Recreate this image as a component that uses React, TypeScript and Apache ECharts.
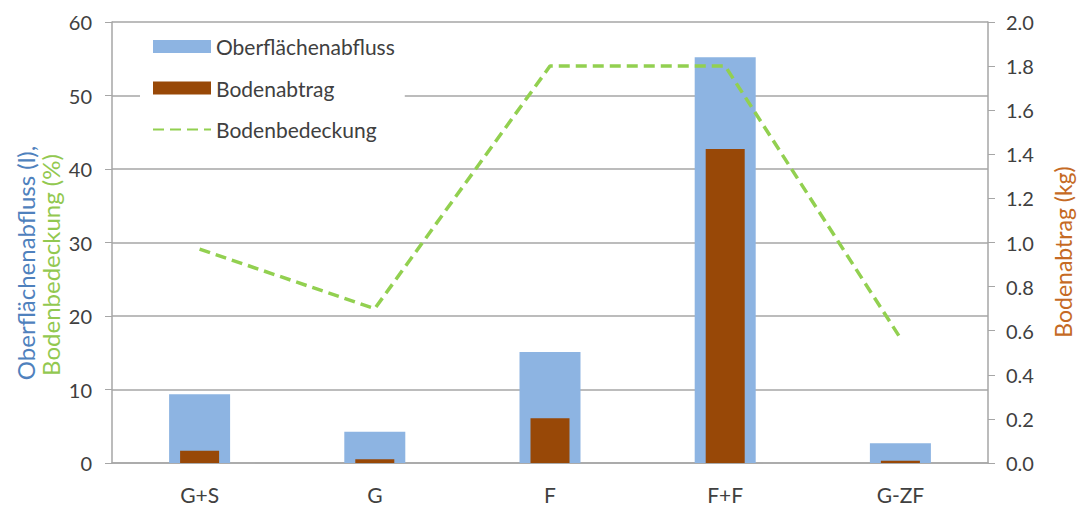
import React, { useEffect, useRef } from "react";
import * as echarts from "echarts";

// Variants (categories)
const categories = ["G+S", "G", "F", "F+F", "G-ZF"];
// Surface runoff in litres (left axis)
const runoff = [9.35, 4.25, 15.1, 55.2, 2.7];
// Soil loss in kg (right axis)
const soilLoss = [0.056, 0.017, 0.203, 1.424, 0.01];
// Ground cover in % (left axis)
const groundCover = [29.1, 21.0, 54.0, 54.0, 17.0];

const FONT = "Lato, 'Open Sans', sans-serif";
const GRID = "#a6a6a6";
const TEXT = "#404040";

export default function App() {
  const ref = useRef<HTMLDivElement>(null);

  useEffect(() => {
    if (!ref.current) return;
    const chart = echarts.init(ref.current, undefined, { renderer: "svg" });
    chart.setOption({
      animation: false,
      backgroundColor: "#ffffff",
      textStyle: { fontFamily: FONT },
      grid: { left: 112, right: 91, top: 22, bottom: 44, containLabel: false },
      legend: {
        orient: "vertical",
        left: 140,
        top: 30,
        padding: [6, 10, 6, 12],
        backgroundColor: "#ffffff",
        itemWidth: 58,
        itemHeight: 13,
        itemGap: 20.5,
        textStyle: { fontSize: 21, color: TEXT, fontFamily: FONT, lineHeight: 21 },
        data: [
          { name: "Oberflächenabfluss", icon: "rect" },
          { name: "Bodenabtrag", icon: "rect" },
          { name: "Bodenbedeckung", itemStyle: { opacity: 0 } },
        ],
      },
      xAxis: [
        {
          type: "category",
          data: categories,
          axisLine: { show: true, lineStyle: { color: GRID, width: 1.5 } },
          axisTick: { show: false },
          axisLabel: { fontSize: 21, color: TEXT, margin: 21, fontFamily: FONT },
        },
        {
          type: "category",
          data: categories,
          show: false,
        },
      ],
      yAxis: [
        {
          type: "value",
          min: 0,
          max: 60,
          interval: 10,
          axisLine: { show: true, lineStyle: { color: GRID, width: 1.5 } },
          axisTick: { show: true, length: 7, lineStyle: { color: GRID } },
          splitLine: { show: true, lineStyle: { color: GRID, width: 1.5 } },
          axisLabel: { fontSize: 20, color: TEXT, margin: 20, fontFamily: FONT },
        },
        {
          type: "value",
          position: "right",
          min: 0,
          max: 2,
          interval: 0.2,
          axisLine: { show: true, lineStyle: { color: GRID, width: 1.5 } },
          axisTick: { show: true, length: 7, lineStyle: { color: GRID } },
          splitLine: { show: false },
          axisLabel: {
            fontSize: 20,
            color: TEXT,
            margin: 18,
            fontFamily: FONT,
            formatter: (v: number) => v.toFixed(1),
          },
        },
      ],
      series: [
        {
          name: "Oberflächenabfluss",
          type: "bar",
          xAxisIndex: 0,
          yAxisIndex: 0,
          barWidth: 61,
          itemStyle: { color: "#8db4e2" },
          data: runoff,
        },
        {
          name: "Bodenabtrag",
          type: "bar",
          xAxisIndex: 1,
          yAxisIndex: 1,
          barWidth: 39,
          itemStyle: { color: "#984807" },
          data: soilLoss,
        },
        {
          name: "Bodenbedeckung",
          type: "line",
          xAxisIndex: 0,
          yAxisIndex: 0,
          symbol: "none",
          lineStyle: { color: "#92d050", width: 3.5, type: [11, 6] },
          itemStyle: { color: "#92d050" },
          data: groundCover,
          z: 5,
        },
      ],
      graphic: [
        {
          type: "text",
          x: 25,
          y: 263,
          rotation: Math.PI / 2,
          style: {
            text: "Oberflächenabfluss (l),",
            fill: "#4f81bd",
            font: `24px ${FONT}`,
            align: "center",
            verticalAlign: "middle",
          },
        },
        {
          type: "text",
          x: 50,
          y: 265,
          rotation: Math.PI / 2,
          style: {
            text: "Bodenbedeckung (%)",
            fill: "#92c850",
            font: `24px ${FONT}`,
            align: "center",
            verticalAlign: "middle",
          },
        },
        {
          type: "text",
          x: 1063,
          y: 252,
          rotation: Math.PI / 2,
          style: {
            text: "Bodenabtrag (kg)",
            fill: "#c56a24",
            font: `23px ${FONT}`,
            align: "center",
            verticalAlign: "middle",
          },
        },
      ],
    });
    return () => chart.dispose();
  }, []);

  return (
    <div
      ref={ref}
      style={{ position: "absolute", left: 0, top: 0, width: 1079, height: 507 }}
    />
  );
}
